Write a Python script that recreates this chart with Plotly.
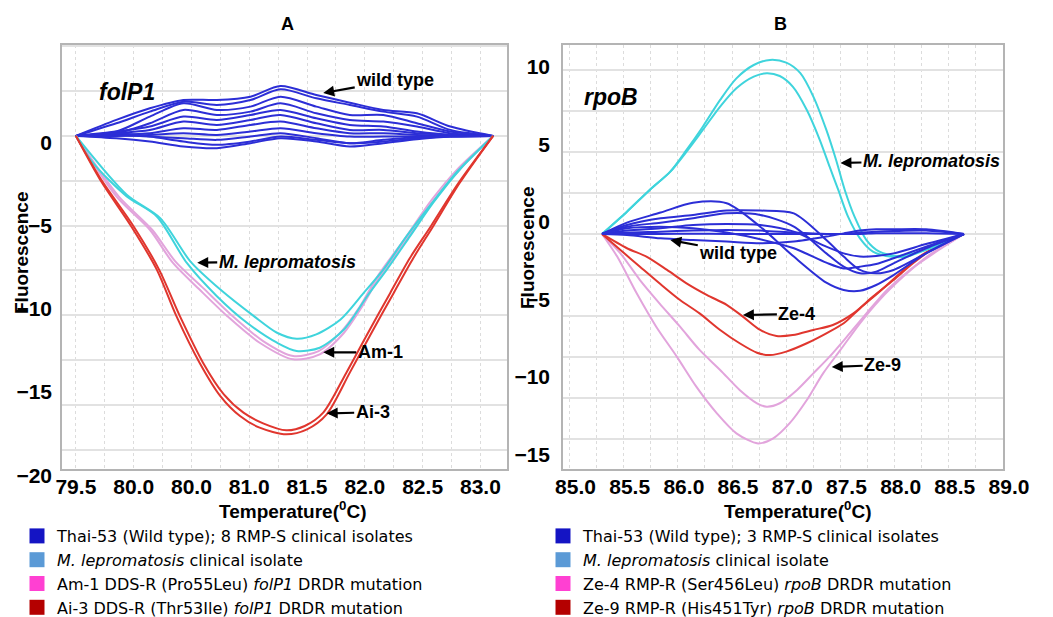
import plotly.graph_objects as go

# ---------------- Panel A : folP1 ----------------
A_WT_X = [79.50, 79.85, 80.14, 80.43, 80.72, 81.01, 81.27, 81.58, 81.87, 82.16, 82.45, 82.74, 83.11]
A_WT_1 = [0, 0.96, 1.66, 2.16, 2.16, 2.36, 3.00, 2.46, 2.00, 1.56, 1.36, 0.56, 0]
A_WT_2 = [0, 0.76, 1.46, 2.06, 1.86, 2.16, 2.80, 2.26, 1.86, 1.46, 1.16, 0.36, 0]
A_WT_3 = [0, 0.26, 1.16, 1.96, 1.56, 1.76, 2.36, 1.76, 1.26, 1.26, 0.76, 0.26, 0]
A_WT_4 = [0, 0.16, 0.76, 1.56, 1.26, 1.46, 1.96, 1.36, 0.96, 0.86, 0.56, 0.16, 0]
A_WT_5 = [0, 0.26, 0.56, 1.16, 0.96, 1.26, 1.56, 1.06, 0.66, 0.56, 0.26, 0.06, 0]
A_WT_6 = [0, 0.16, 0.36, 0.86, 0.66, 0.96, 1.26, 0.76, 0.36, 0.36, 0.16, 0.06, 0]
A_WT_7 = [0, 0.06, 0.16, 0.46, 0.36, 0.66, 0.86, 0.46, 0.16, 0.16, 0.06, 0, 0]
A_WT_8 = [0, 0, 0.06, 0.16, 0.06, 0.26, 0.46, 0.16, -0.04, -0.04, -0.04, 0, 0]
A_WT_9 = [0, 0.06, -0.04, -0.14, -0.24, -0.04, 0.16, -0.14, -0.44, -0.24, -0.08, -0.04, 0]
A_WT_10 = [0, -0.14, -0.34, -0.64, -0.74, -0.44, -0.14, -0.34, -0.64, -0.44, -0.20, -0.04, 0]
A_WT_11 = [0, 0.16, -0.04, -0.34, -0.54, -0.34, -0.04, -0.24, -0.44, -0.34, -0.14, -0.04, 0]

A_LEP1_X = [79.50, 79.65, 79.94, 80.20, 80.46, 80.72, 80.98, 81.24, 81.41, 81.61, 81.82, 82.02, 82.19, 82.39, 82.59, 82.82, 83.11]
A_LEP1_Y = [0, -1.64, -3.64, -4.85, -7.65, -9.65, -11.25, -12.45, -12.95, -12.75, -11.65, -9.65, -8.05, -6.05, -4.04, -2.04, 0]
A_LEP2_X = [79.50, 79.94, 80.23, 80.49, 80.75, 81.04, 81.24, 81.41, 81.58, 81.79, 81.99, 82.16, 82.36, 82.57, 82.80, 83.11]
A_LEP2_Y = [0, -3.54, -4.95, -7.55, -9.25, -10.85, -11.85, -12.21, -11.95, -11.05, -9.45, -8.05, -6.05, -4.14, -2.14, 0]

A_AM1_X = [79.50, 79.85, 80.14, 80.34, 80.57, 80.81, 81.09, 81.38, 81.61, 81.82, 81.96, 82.13, 82.36, 82.59, 82.82, 83.11]
A_AM1_Y = [0, -3.64, -5.65, -7.65, -9.25, -10.85, -12.45, -13.45, -13.15, -11.85, -10.45, -8.45, -6.25, -3.94, -2.04, 0]
A_AM2_X = [79.50, 79.87, 80.16, 80.36, 80.60, 80.84, 81.12, 81.38, 81.60, 81.80, 81.95, 82.12, 82.35, 82.58, 82.81, 83.11]
A_AM2_Y = [0, -3.64, -5.65, -7.55, -9.15, -10.75, -12.35, -13.25, -12.95, -11.75, -10.35, -8.35, -6.15, -3.84, -1.94, 0]

A_AI1_X = [79.50, 79.71, 79.98, 80.20, 80.37, 80.57, 80.75, 80.92, 81.09, 81.32, 81.50, 81.67, 81.87, 82.05, 82.25, 82.42, 82.59, 82.82, 83.11]
A_AI1_Y = [0, -2.64, -5.45, -8.05, -10.85, -13.65, -15.66, -16.86, -17.56, -17.96, -17.66, -16.76, -14.25, -11.95, -9.45, -7.35, -5.45, -2.84, 0]
A_AI2_X = [79.50, 79.72, 80.00, 80.22, 80.40, 80.60, 80.78, 80.95, 81.12, 81.32, 81.48, 81.64, 81.84, 82.02, 82.22, 82.39, 82.57, 82.81, 83.11]
A_AI2_Y = [0, -2.64, -5.45, -8.05, -10.85, -13.65, -15.56, -16.66, -17.30, -17.72, -17.46, -16.66, -14.25, -11.95, -9.45, -7.35, -5.45, -2.84, 0]

A_XTICKS = [79.5, 80.0, 80.5, 81.0, 81.5, 82.0, 82.5, 83.0]
A_XTICKTEXT = ["79.5", "80.0", "80.0", "81.0", "81.5", "82.0", "82.5", "83.0"]
A_YTICKS = [0, -5, -10, -15, -20]

# ---------------- Panel B : rpoB ----------------
B_WT_X = [85.30, 85.53, 85.84, 86.14, 86.45, 86.76, 87.07, 87.37, 87.53, 87.68, 87.83, 87.99, 88.29, 88.64]
B_WT_1 = [0, 0.73, 1.38, 2.02, 1.98, 0.47, -1.46, -3.14, -3.61, -3.66, -3.29, -2.65, -1.25, 0]
B_WT_2 = [0, 0.58, 1.01, 1.23, 1.51, 1.51, 1.33, -0.39, -1.46, -2.32, -2.54, -2.32, -1.25, 0]
B_WT_3 = [0, 0.47, 0.73, 1.01, 1.33, 1.23, 0.47, -1.25, -2.11, -2.54, -2.43, -1.89, -0.92, 0]
B_WT_4 = [0, 0.22, 0.37, 0.58, 0.65, 0.58, 0.15, -0.82, -1.25, -1.46, -1.42, -1.25, -0.65, 0]
B_WT_5 = [0, -0.06, -0.28, -0.39, -0.49, -0.60, -0.49, -0.17, 0.04, 0.22, 0.30, 0.30, 0.30, 0]
B_WT_6 = [0, 0.09, 0.15, 0.22, 0.26, 0.22, 0.09, 0, 0, 0.09, 0.15, 0.19, 0.22, 0]
B_WT_7 = [0, 0, 0, 0.02, 0, 0, 0, 0, 0, 0, 0.05, 0.05, 0.05, 0]
B_WT_8 = [0, 0.37, 0.47, 0.37, 0.09, -0.34, -0.92, -1.85, -2.22, -2.11, -1.94, -1.57, -0.82, 0]

B_LEP1_X = [85.30, 85.53, 85.74, 85.93, 86.08, 86.23, 86.39, 86.54, 86.70, 86.85, 87.00, 87.13, 87.25, 87.37, 87.46, 87.54, 87.63, 87.74, 87.86, 88.02, 88.17, 88.33, 88.48, 88.64]
B_LEP1_Y = [0, 1.44, 2.84, 4.02, 5.42, 6.92, 8.65, 10.04, 10.90, 11.23, 11.05, 10.37, 8.86, 6.71, 4.77, 2.84, 1.12, -0.39, -1.14, -1.42, -1.25, -0.92, -0.49, 0]
B_LEP2_X = [85.30, 85.53, 85.74, 85.93, 86.08, 86.23, 86.39, 86.54, 86.70, 86.82, 86.94, 87.06, 87.19, 87.31, 87.40, 87.48, 87.57, 87.68, 87.80, 87.96, 88.11, 88.30, 88.48, 88.64]
B_LEP2_Y = [0, 1.44, 2.84, 4.02, 5.31, 6.71, 8.22, 9.40, 10.15, 10.37, 10.19, 9.51, 8.00, 6.06, 4.34, 2.84, 1.12, -0.28, -1.14, -1.46, -1.46, -0.99, -0.49, 0]

B_ZE4_X = [85.30, 85.53, 85.71, 85.90, 86.08, 86.27, 86.45, 86.60, 86.76, 86.91, 87.06, 87.25, 87.43, 87.62, 87.80, 87.99, 88.17, 88.36, 88.64]
B_ZE4_Y = [0, -0.92, -1.46, -2.32, -3.18, -3.94, -4.57, -5.33, -6.19, -6.58, -6.52, -6.19, -5.87, -5.12, -4.04, -2.97, -1.89, -0.92, 0]
B_ZE4b_X = [85.30, 85.47, 85.65, 85.83, 86.02, 86.20, 86.39, 86.57, 86.73, 86.85, 87.00, 87.19, 87.37, 87.53, 87.68, 87.86, 88.05, 88.23, 88.42, 88.64]
B_ZE4b_Y = [0, -1.03, -2.11, -3.18, -4.26, -5.12, -6.19, -7.05, -7.66, -7.81, -7.59, -7.05, -6.41, -5.76, -4.80, -3.72, -2.54, -1.46, -0.71, 0]

B_ZE9_X = [85.30, 85.47, 85.65, 85.83, 86.02, 86.20, 86.39, 86.57, 86.73, 86.82, 86.94, 87.10, 87.25, 87.40, 87.56, 87.74, 87.93, 88.14, 88.36, 88.64]
B_ZE9_Y = [0, -1.25, -2.97, -4.47, -5.98, -7.48, -8.77, -10.06, -10.92, -11.14, -10.92, -10.06, -8.99, -7.91, -6.62, -5.12, -3.61, -2.32, -1.25, 0]
B_ZE9b_X = [85.30, 85.44, 85.62, 85.80, 85.99, 86.17, 86.36, 86.54, 86.74, 86.88, 87.03, 87.19, 87.34, 87.50, 87.68, 87.86, 88.08, 88.30, 88.64]
B_ZE9b_Y = [0, -1.46, -3.83, -5.98, -7.91, -9.85, -11.57, -12.86, -13.51, -13.18, -12.22, -10.71, -8.99, -7.48, -5.76, -4.26, -2.75, -1.46, 0]

B_XTICKS = [85.0, 85.5, 86.0, 86.5, 87.0, 87.5, 88.0, 88.5, 89.0]
B_XTICKTEXT = ["85.0", "85.5", "86.0", "86.5", "87.0", "87.5", "88.0", "88.5", "89.0"]
B_YTICKS = [10, 5, 0, -5, -10, -15]

LEGEND_A = ["Thai-53 (Wild type); 8 RMP-S clinical isolates",
            "<i>M. lepromatosis</i> clinical isolate",
            "Am-1 DDS-R (Pro55Leu) <i>folP1</i> DRDR mutation",
            "Ai-3 DDS-R (Thr53Ile) <i>folP1</i> DRDR mutation"]
LEGEND_B = ["Thai-53 (Wild type); 3 RMP-S clinical isolates",
            "<i>M. lepromatosis</i> clinical isolate",
            "Ze-4 RMP-R (Ser456Leu) <i>rpoB</i> DRDR mutation",
            "Ze-9 RMP-R (His451Tyr) <i>rpoB</i> DRDR mutation"]
LEGEND_COLORS = ["#1414c4", "#5b9ad6", "#ff40d2", "#b40000"]

BLUE = "#2c2ed6"
CYAN = "#3fd4dc"
PINK = "#e2a4dc"
RED = "#e0362e"
FONT = "Arial, Liberation Sans, sans-serif"
LEGFONT = "DejaVu Sans, Arial, sans-serif"

fig = go.Figure()


def line(x, y, color, xa, ya, width=2):
    fig.add_trace(go.Scatter(x=x, y=y, mode="lines", xaxis=xa, yaxis=ya,
                             line=dict(color=color, width=width, shape="spline", smoothing=0.8),
                             showlegend=False, hoverinfo="skip"))


for yy in [A_WT_1, A_WT_2, A_WT_3, A_WT_4, A_WT_5, A_WT_6, A_WT_7, A_WT_8, A_WT_9, A_WT_10, A_WT_11]:
    line(A_WT_X, yy, BLUE, "x", "y")
line(A_AM1_X, A_AM1_Y, PINK, "x", "y")
line(A_AM2_X, A_AM2_Y, PINK, "x", "y")
line(A_LEP1_X, A_LEP1_Y, CYAN, "x", "y")
line(A_LEP2_X, A_LEP2_Y, CYAN, "x", "y")
line(A_AI1_X, A_AI1_Y, RED, "x", "y")
line(A_AI2_X, A_AI2_Y, RED, "x", "y")

line(B_ZE9_X, B_ZE9_Y, PINK, "x2", "y2")
line(B_ZE9b_X, B_ZE9b_Y, PINK, "x2", "y2")
line(B_ZE4_X, B_ZE4_Y, RED, "x2", "y2")
line(B_ZE4b_X, B_ZE4b_Y, RED, "x2", "y2")
line(B_LEP1_X, B_LEP1_Y, CYAN, "x2", "y2")
line(B_LEP2_X, B_LEP2_Y, CYAN, "x2", "y2")
for yy in [B_WT_1, B_WT_2, B_WT_3, B_WT_4, B_WT_5, B_WT_6, B_WT_7, B_WT_8]:
    line(B_WT_X, yy, BLUE, "x2", "y2")

# legend entries (colour swatches)
for name, col in zip(LEGEND_A, LEGEND_COLORS):
    fig.add_trace(go.Scatter(x=[None], y=[None], mode="markers", xaxis="x", yaxis="y",
                             marker=dict(symbol="square", size=15, color=col),
                             name=name, legend="legend"))
for name, col in zip(LEGEND_B, LEGEND_COLORS):
    fig.add_trace(go.Scatter(x=[None], y=[None], mode="markers", xaxis="x2", yaxis="y2",
                             marker=dict(symbol="square", size=15, color=col),
                             name=name, legend="legend2"))

W, H = 1053, 617
xa_dom = [62 / W, 507 / W]
xb_dom = [563 / W, 1003 / W]
y_dom = [(H - 469) / H, (H - 45) / H]

axis_common = dict(showline=True, mirror=True, linecolor="#b4b4b4", linewidth=1.5,
                   zeroline=False, showgrid=False, ticks="",
                   tickfont=dict(family=FONT, size=21, color="black", weight="bold"))

fig.update_layout(
    width=W, height=H, margin=dict(l=0, r=0, t=0, b=0, autoexpand=False),
    paper_bgcolor="white", plot_bgcolor="white",
    xaxis=dict(domain=xa_dom, range=[79.38, 83.23], anchor="y",
               tickmode="array", tickvals=A_XTICKS, ticktext=A_XTICKTEXT,
               ticklabelstandoff=-2,
               minor=dict(tickmode="linear", tick0=79.5, dtick=0.25, showgrid=True,
                          gridcolor="#dcdcdc", griddash="dot", gridwidth=1, ticks=""),
               **axis_common),
    yaxis=dict(domain=y_dom, range=[-20.05, 5.47], anchor="x",
               tickmode="array", tickvals=A_YTICKS, ticklabelstandoff=4, ticklabelshift=7,
               minor=dict(tickmode="linear", tick0=0, dtick=2.7, showgrid=True,
                          gridcolor="#e2e2e2", gridwidth=1.5, ticks=""),
               **axis_common),
    xaxis2=dict(domain=xb_dom, range=[84.94, 89.0], anchor="y2",
                tickmode="array", tickvals=B_XTICKS, ticktext=B_XTICKTEXT,
                ticklabelstandoff=-2, ticklabelshift=6,
                minor=dict(tickmode="linear", tick0=85.0, dtick=0.25, showgrid=True,
                           gridcolor="#dcdcdc", griddash="dot", gridwidth=1, ticks=""),
                **axis_common),
    yaxis2=dict(domain=y_dom, range=[-15.16, 12.19], anchor="x2",
                tickmode="array", tickvals=B_YTICKS, ticklabelstandoff=7, ticklabelshift=-12,
                minor=dict(tickmode="linear", tick0=0, dtick=2.65, showgrid=True,
                           gridcolor="#e2e2e2", gridwidth=1.5, ticks=""),
                **axis_common),
    legend=dict(x=17 / W, y=1 - 519 / H, xanchor="left", yanchor="top",
                font=dict(family=LEGFONT, size=16, color="black"),
                bgcolor="rgba(0,0,0,0)", itemclick=False, traceorder="normal"),
    legend2=dict(x=543 / W, y=1 - 519 / H, xanchor="left", yanchor="top",
                 font=dict(family=LEGFONT, size=16, color="black"),
                 bgcolor="rgba(0,0,0,0)", itemclick=False, traceorder="normal"),
    showlegend=True,
)

bold = dict(family=FONT, color="black")
ann = []


def paper_text(text, cx, cy, size, angle=0):
    ann.append(dict(text=text, x=cx / W, y=1 - cy / H, xref="paper", yref="paper",
                    xanchor="center", yanchor="middle", textangle=angle,
                    showarrow=False, font=dict(size=size, **bold)))


# panel letters
paper_text("<b>A</b>", 287, 24, 18)
paper_text("<b>B</b>", 780, 24, 18)
# axis titles
paper_text("<b>Temperature(<sup>0</sup>C)</b>", 292, 510, 19)
paper_text("<b>Temperature(<sup>0</sup>C)</b>", 797, 510, 19)
paper_text("<b>Fluorescence</b>", 21, 253, 19, -90)
paper_text("<b>Fluorescence</b>", 527, 248, 19, -90)

# gene names
ann.append(dict(text="<b><i>folP1</i></b>", x=79.94, y=2.65, xref="x", yref="y",
                xanchor="center", yanchor="middle",
                showarrow=False, font=dict(size=23, **bold)))
ann.append(dict(text="<b><i>rpoB</i></b>", x=85.38, y=8.84, xref="x2", yref="y2",
                xanchor="center", yanchor="middle",
                showarrow=False, font=dict(size=23, **bold)))

arrow = dict(showarrow=True, arrowhead=2, arrowsize=1, arrowwidth=2.2, arrowcolor="black")
labels = [
    ("<b>wild type</b>", 81.64, 2.58, 72, -13, "x", "y"),
    ("<b><i>M. lepromatosis</i></b>", 80.55, -7.63, 90, -1, "x", "y"),
    ("<b>Am-1</b>", 81.64, -13.03, 57, 0, "x", "y"),
    ("<b>Ai-3</b>", 81.67, -16.70, 46, -1, "x", "y"),
    ("<b><i>M. lepromatosis</i></b>", 87.50, 4.58, 91, -2, "x2", "y2"),
    ("<b>wild type</b>", 85.93, -0.39, 68, 13, "x2", "y2"),
    ("<b>Ze-4</b>", 86.60, -5.23, 54, -1, "x2", "y2"),
    ("<b>Ze-9</b>", 87.42, -8.58, 51, -2, "x2", "y2"),
]
for t, x, y, ax, ay, xr, yr in labels:
    ann.append(dict(text=t, x=x, y=y, ax=ax, ay=ay, xref=xr, yref=yr,
                    font=dict(size=18, **bold), **arrow))

fig.update_layout(annotations=ann)
fig.write_html("out.html")
